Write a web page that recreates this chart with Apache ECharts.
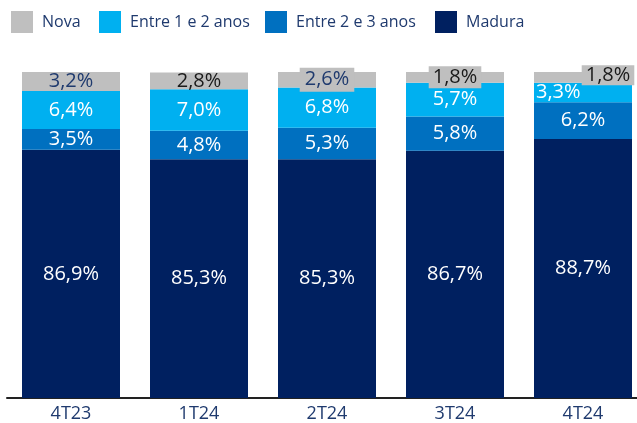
<!DOCTYPE html>
<html>
<head>
<meta charset="utf-8">
<script src="https://cdn.jsdelivr.net/npm/echarts@6/dist/echarts.min.js"></script>
<style>
  html, body { margin: 0; padding: 0; background: #fff; }
  #chart { width: 637px; height: 423px; }
</style>
</head>
<body>
<div id="chart"></div>
<script>
var categories = ['4T23', '1T24', '2T24', '3T24', '4T24'];
var nova = [3.2, 2.8, 2.6, 1.8, 1.8];
var entre12 = [6.4, 7.0, 6.8, 5.7, 3.3];
var entre23 = [3.5, 4.8, 5.3, 5.8, 6.2];
var madura = [86.9, 85.3, 85.3, 86.7, 88.7];

var navy = '#1F3A6E';
var font = 'Open Sans';

function pct(p) {
    return p.value.toFixed(1).replace('.', ',') + '%';
}

var myChart = echarts.init(document.getElementById('chart'));

// rótulos da série Nova: alguns com fundo cinza porque não cabem na barra
var novaData = nova.map(function (v, i) {
    var item = { value: v };
    if (i === 0 || i === 2) {
        item.label = { color: navy };
    }
    if (i >= 2) {
        item.label = item.label || {};
        item.label.backgroundColor = '#BFBFBF';
        item.label.padding = [2, 5, 2, 5];
        item.label.offset = [0, 0];
    }
    if (i === 3) {
        item.label.padding = [1, 4, 1, 4];
    }
    if (i === 4) {
        item.label.offset = [25, -2];
        item.label.padding = [0, 4, 0, 4];
    }
    return item;
});

var entre12Data = entre12.map(function (v, i) {
    if (i === 4) {
        return { value: v, label: { position: 'insideLeft', distance: 2 } };
    }
    return v;
});

var labelBase = {
    show: true,
    position: 'inside',
    fontFamily: font,
    fontSize: 20,
    color: '#fff',
    formatter: pct
};

function legendItem(name, left) {
    return {
        data: [name],
        left: left,
        top: 11,
        padding: 0,
        itemWidth: 22,
        itemHeight: 22,
        icon: 'rect',
        selectedMode: false,
        textStyle: { fontFamily: font, fontSize: 16, color: navy, padding: [0, 0, 0, 4] }
    };
}

var option = {
    animation: false,
    color: ['#BFBFBF', '#00B0F0', '#0070C0', '#002060'],
    legend: [
        legendItem('Nova', 11),
        legendItem('Entre 1 e 2 anos', 99),
        legendItem('Entre 2 e 3 anos', 265),
        legendItem('Madura', 435)
    ],
    grid: {
        left: 7,
        top: 72,
        right: -10,
        bottom: 25,
        outerBoundsMode: 'none'
    },
    xAxis: {
        type: 'category',
        data: categories,
        axisTick: { show: false },
        axisLine: { lineStyle: { color: '#222', width: 2 } },
        axisLabel: { fontFamily: font, fontSize: 18, color: navy, margin: 7 }
    },
    yAxis: {
        type: 'value',
        min: 45,
        max: 100,
        show: false,
        splitLine: { show: false }
    },
    series: [
        {
            name: 'Madura', type: 'bar', stack: 'total', barWidth: 98,
            itemStyle: { color: '#002060' },
            label: labelBase,
            data: madura
        },
        {
            name: 'Entre 2 e 3 anos', type: 'bar', stack: 'total', barWidth: 98,
            itemStyle: { color: '#0070C0' },
            label: labelBase,
            data: entre23
        },
        {
            name: 'Entre 1 e 2 anos', type: 'bar', stack: 'total', barWidth: 98,
            itemStyle: { color: '#00B0F0' },
            label: labelBase,
            data: entre12Data
        },
        {
            name: 'Nova', type: 'bar', stack: 'total', barWidth: 98,
            itemStyle: { color: '#BFBFBF' },
            label: Object.assign({}, labelBase, { color: '#1a1a1a' }),
            data: novaData
        }
    ]
};

myChart.setOption(option);
</script>
</body>
</html>
